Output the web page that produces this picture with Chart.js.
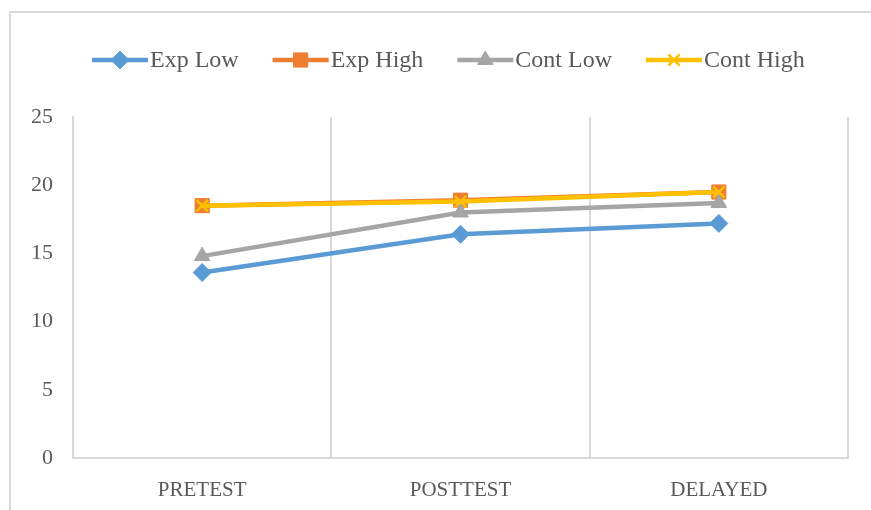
<!DOCTYPE html>
<html>
<head>
<meta charset="utf-8">
<script src="https://cdn.jsdelivr.net/npm/chart.js@4/dist/chart.umd.min.js"></script>
<style>
  html, body { margin: 0; padding: 0; background: #fff; }
  #wrap { position: relative; width: 871px; height: 510px; overflow: hidden; }
  #frame { position: absolute; left: 9px; top: 11px; width: 900px; height: 600px;
           border-left: 2px solid #d9d9d9; border-top: 2px solid #d9d9d9; }
  canvas { position: absolute; left: 0; top: 0; }
</style>
</head>
<body>
<div id="wrap">
  <div id="frame"></div>
  <canvas id="chart" width="871" height="510"></canvas>
</div>
<script>
// Test phases and mean scores per group
const phases = ['PRETEST', 'POSTTEST', 'DELAYED'];
const expLow = [13.6, 16.4, 17.2];
const expHigh = [18.5, 18.9, 19.5];
const contLow = [14.8, 18.0, 18.7];
const contHigh = [18.5, 18.8, 19.5];
const yTicks = [0, 5, 10, 15, 20, 25];

const serif = '"Liberation Serif", "Times New Roman", serif';
const textColor = '#595959';

function series(label, data, color, style, radius, order) {
  return {
    label, data, order,
    borderColor: color,
    backgroundColor: color,
    borderWidth: 4.5,
    pointStyle: style,
    pointRadius: radius,
    pointHoverRadius: radius,
    pointBackgroundColor: color,
    pointBorderColor: color,
    pointBorderWidth: style === 'crossRot' ? 2.5 : 1,
    tension: 0
  };
}

const datasets = [
  series('Exp Low', expLow, '#5B9BD5', 'rectRot', 9, 4),
  series('Exp High', expHigh, '#ED7D31', 'rect', 10, 3),
  series('Cont Low', contLow, '#A5A5A5', 'triangle', 9, 2),
  series('Cont High', contHigh, '#FFC000', 'crossRot', 8, 1)
];

// Legend: a short line with the series marker, followed by its name
const lineLegend = {
  id: 'lineLegend',
  afterDraw(chart) {
    const ctx = chart.ctx;
    const y = 60, lineLen = 56, textGap = 2, itemGap = 34;
    ctx.save();
    ctx.font = '24px ' + serif;
    ctx.textBaseline = 'middle';
    let x = 92;
    chart.data.datasets.forEach(ds => {
      ctx.strokeStyle = ds.borderColor;
      ctx.lineWidth = 4.5;
      ctx.beginPath();
      ctx.moveTo(x, y);
      ctx.lineTo(x + lineLen, y);
      ctx.stroke();
      ctx.fillStyle = ds.pointBackgroundColor;
      ctx.strokeStyle = ds.pointBorderColor;
      ctx.lineWidth = ds.pointBorderWidth;
      Chart.helpers.drawPoint(ctx, {
        pointStyle: ds.pointStyle, radius: ds.pointRadius,
        borderWidth: ds.pointBorderWidth, rotation: 0
      }, x + lineLen / 2, y);
      ctx.fillStyle = textColor;
      ctx.fillText(ds.label, x + lineLen + textGap, y + 1);
      x += lineLen + textGap + ctx.measureText(ds.label).width + itemGap;
    });
    ctx.restore();
  }
};

new Chart(document.getElementById('chart'), {
  type: 'line',
  data: { labels: phases, datasets },
  options: {
    responsive: false,
    animation: false,
    layout: { padding: { top: 117, right: 23, left: 0, bottom: 0 } },
    plugins: { legend: { display: false }, tooltip: { enabled: false } },
    scales: {
      x: {
        offset: true,
        grid: { display: true, offset: true, color: '#d9d9d9', lineWidth: 2, drawTicks: false },
        border: { display: true, color: '#d9d9d9', width: 2 },
        ticks: { color: textColor, font: { family: serif, size: 21 }, padding: 20, maxRotation: 0 },
        afterFit(scale) { scale.height = 52; }
      },
      y: {
        min: 0, max: 25,
        afterBuildTicks(scale) { scale.ticks = yTicks.map(v => ({ value: v })); },
        grid: { display: true, color: 'rgba(0,0,0,0)', drawTicks: false },
        border: { display: true, color: '#d9d9d9', width: 2 },
        ticks: { color: textColor, font: { family: serif, size: 22 }, padding: 20 },
        afterFit(scale) { scale.width = 73; }
      }
    }
  },
  plugins: [lineLegend]
});
</script>
</body>
</html>
